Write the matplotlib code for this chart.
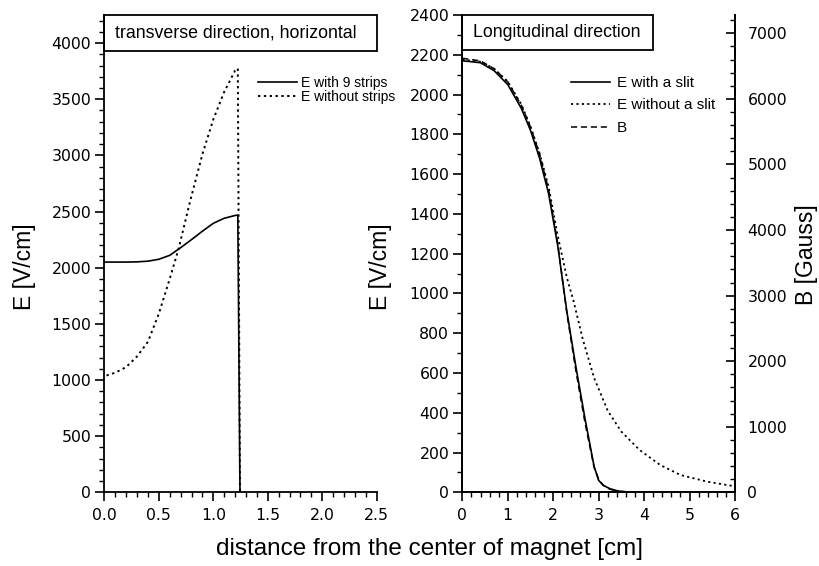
import matplotlib as mpl
mpl.use('Agg')
import matplotlib.pyplot as plt
from matplotlib.patches import Rectangle
from matplotlib.ticker import MultipleLocator

plt.rcParams['font.family'] = ['Liberation Sans', 'DejaVu Sans']

# left panel: transverse direction
x_strips = [0.0, 0.1, 0.2, 0.3, 0.4, 0.5, 0.6, 0.7, 0.8, 0.9, 1.0, 1.1, 1.2, 1.225, 1.245]
e_strips = [2050, 2050, 2050, 2052, 2058, 2075, 2110, 2178, 2250, 2325, 2395, 2440, 2465, 2468, 0]
x_nostrips = [0.02, 0.1, 0.2, 0.3, 0.4, 0.5, 0.6, 0.68, 0.79, 0.9, 1.0, 1.1, 1.2, 1.225, 1.245]
e_nostrips = [1040, 1065, 1115, 1210, 1340, 1590, 1900, 2163, 2603, 3010, 3320, 3565, 3755, 3775, 0]

# right panel: longitudinal direction
x_long = [0, 0.4, 0.7, 1.0, 1.3, 1.5, 1.7, 1.9, 2.1, 2.3, 2.5, 2.7, 2.9, 3.0, 3.1, 3.25, 3.45, 3.7, 4, 5, 6]
e_slit = [2170, 2160, 2120, 2050, 1930, 1820, 1680, 1500, 1240, 910, 630, 370, 130, 60, 35, 18, 5, 1, 0, 0, 0]
b_gauss = [6620, 6580, 6460, 6260, 5900, 5570, 5160, 4610, 3790, 2730, 1850, 1060, 380, 200, 110, 45, 15, 5, 0, 0, 0]
x_noslit = [0, 0.4, 0.7, 1.0, 1.3, 1.5, 1.7, 1.9, 2.1, 2.3, 2.45, 2.65, 2.9, 3.2, 3.5, 3.9, 4.35, 4.8, 5.4, 6.0]
e_noslit = [2175, 2165, 2130, 2065, 1950, 1840, 1705, 1535, 1290, 1080, 960, 770, 575, 410, 305, 213, 138, 87, 53, 30]

dotted = (0, (1.2, 1.8))
tickfont = 'DejaVu Sans'

fig = plt.figure(figsize=(8.19, 5.66), dpi=100)
axL = fig.add_axes([0.1274, 0.1302, 0.3326, 0.8433])
axR = fig.add_axes([0.5645, 0.1302, 0.3329, 0.8433])
axB = axR.twinx()

def style(ax):
    for s in ax.spines.values():
        s.set_linewidth(1.3)
    ax.tick_params(which='major', direction='out', length=6.5, width=1.2, labelsize=11.3, pad=3)
    ax.tick_params(which='minor', direction='out', length=3.5, width=1.0)
    ax.tick_params(axis='x', which='major', pad=5)
    for lab in ax.get_xticklabels() + ax.get_yticklabels():
        lab.set_family(tickfont)

# ---- left
axL.plot(x_strips, e_strips, color='black', lw=1.2, label='E with 9 strips')
axL.plot(x_nostrips, e_nostrips, color='black', lw=1.4, ls=dotted, label='E without strips')
axL.set_xlim(0, 2.5)
axL.set_ylim(0, 4250)
axL.xaxis.set_major_locator(MultipleLocator(0.5))
axL.xaxis.set_minor_locator(MultipleLocator(0.1))
axL.yaxis.set_major_locator(MultipleLocator(500))
axL.yaxis.set_minor_locator(MultipleLocator(100))
axL.xaxis.set_major_formatter(mpl.ticker.FormatStrFormatter('%.1f'))
axL.spines['top'].set_visible(False)
axL.spines['right'].set_visible(False)
style(axL)
axL.set_ylabel('E [V/cm]', fontsize=16.5)
axL.yaxis.set_label_coords(-0.252, 0.472)
axL.add_patch(Rectangle((0, 0.9245), 1.0, 0.0755, transform=axL.transAxes,
                        fill=False, lw=1.3, clip_on=False))
axL.text(0.04, 0.962, 'transverse direction, horizontal', transform=axL.transAxes,
         fontsize=12.8, va='center', ha='left')
axL.legend(loc='upper left', bbox_to_anchor=(0.564, 0.872), frameon=False,
           borderaxespad=0, borderpad=0, handlelength=2.8, handletextpad=0.33,
           labelspacing=0.0, fontsize=10)

# ---- right
l1, = axR.plot(x_long, e_slit, color='black', lw=1.2, label='E with a slit')
l2, = axR.plot(x_noslit, e_noslit, color='black', lw=1.3, ls=dotted, label='E without a slit')
l3, = axB.plot(x_long, b_gauss, color='black', lw=1.1, ls=(0, (4, 2.5)), label='B')
axR.set_xlim(0, 6)
axR.set_ylim(0, 2400)
axB.set_ylim(0, 7280)
axR.xaxis.set_major_locator(MultipleLocator(1))
axR.xaxis.set_minor_locator(MultipleLocator(0.2))
axR.yaxis.set_major_locator(MultipleLocator(200))
axR.yaxis.set_minor_locator(MultipleLocator(100))
axB.yaxis.set_major_locator(MultipleLocator(1000))
axB.yaxis.set_minor_locator(MultipleLocator(200))
axR.spines['top'].set_visible(False)
axB.spines['top'].set_visible(False)
style(axR)
style(axB)
axB.tick_params(which='both', direction='in', pad=9)
axR.set_ylabel('E [V/cm]', fontsize=16.5)
axR.yaxis.set_label_coords(-0.257, 0.472)
axB.set_ylabel('B [Gauss]', fontsize=16.5)
axB.yaxis.set_label_coords(1.22, 0.497)
axR.add_patch(Rectangle((0, 0.9266), 0.70, 0.0734, transform=axR.transAxes,
                        fill=False, lw=1.3, clip_on=False))
axR.text(0.04, 0.963, 'Longitudinal direction', transform=axR.transAxes,
         fontsize=12.8, va='center', ha='left')
axR.legend([l1, l2, l3], ['E with a slit', 'E without a slit', 'B'],
           loc='upper left', bbox_to_anchor=(0.399, 0.872), frameon=False,
           borderaxespad=0, borderpad=0, handlelength=2.55, handletextpad=0.45,
           labelspacing=0.55, fontsize=11)

fig.text(0.525, 0.030, 'distance from the center of magnet [cm]', fontsize=17.5,
         ha='center', va='center')

fig.savefig('out.png', dpi=100)
